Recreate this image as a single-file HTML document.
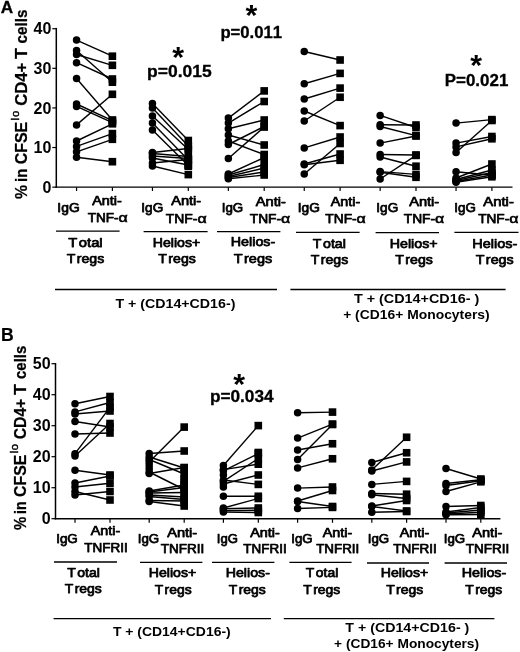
<!DOCTYPE html>
<html><head><meta charset="utf-8"><title>Figure</title>
<style>
html,body{margin:0;padding:0;background:#fff;}
svg{display:block;}
svg text{font-family:"Liberation Sans",sans-serif;fill:#000;font-kerning:none;}
</style></head>
<body>
<svg width="520" height="652" viewBox="0 0 520 652">
<rect x="0" y="0" width="520" height="652" fill="#fff"/>
<line x1="56.3" y1="27.9" x2="56.3" y2="187.85" stroke="#000" stroke-width="1.5"/>
<line x1="55.55" y1="187.15" x2="512.5" y2="187.15" stroke="#000" stroke-width="1.4"/>
<line x1="52.3" y1="187.15" x2="56.3" y2="187.15" stroke="#000" stroke-width="1.2"/>
<text x="51.3" y="192.85" font-size="16" font-weight="bold" text-anchor="end" >0</text>
<line x1="52.3" y1="147.54" x2="56.3" y2="147.54" stroke="#000" stroke-width="1.2"/>
<text x="51.3" y="153.24" font-size="16" font-weight="bold" text-anchor="end" >10</text>
<line x1="52.3" y1="107.93" x2="56.3" y2="107.93" stroke="#000" stroke-width="1.2"/>
<text x="51.3" y="113.63" font-size="16" font-weight="bold" text-anchor="end" >20</text>
<line x1="52.3" y1="68.32" x2="56.3" y2="68.32" stroke="#000" stroke-width="1.2"/>
<text x="51.3" y="74.02" font-size="16" font-weight="bold" text-anchor="end" >30</text>
<line x1="52.3" y1="28.71" x2="56.3" y2="28.71" stroke="#000" stroke-width="1.2"/>
<text x="51.3" y="34.41" font-size="16" font-weight="bold" text-anchor="end" >40</text>
<line x1="76.55" y1="187.15" x2="76.55" y2="191" stroke="#000" stroke-width="1.2"/>
<line x1="152.45" y1="187.15" x2="152.45" y2="191" stroke="#000" stroke-width="1.2"/>
<line x1="228.35" y1="187.15" x2="228.35" y2="191" stroke="#000" stroke-width="1.2"/>
<line x1="304.25" y1="187.15" x2="304.25" y2="191" stroke="#000" stroke-width="1.2"/>
<line x1="380.15" y1="187.15" x2="380.15" y2="191" stroke="#000" stroke-width="1.2"/>
<line x1="456.05" y1="187.15" x2="456.05" y2="191" stroke="#000" stroke-width="1.2"/>
<line x1="112.4" y1="187.15" x2="112.4" y2="191" stroke="#000" stroke-width="1.2"/>
<line x1="188.3" y1="187.15" x2="188.3" y2="191" stroke="#000" stroke-width="1.2"/>
<line x1="264.2" y1="187.15" x2="264.2" y2="191" stroke="#000" stroke-width="1.2"/>
<line x1="340.1" y1="187.15" x2="340.1" y2="191" stroke="#000" stroke-width="1.2"/>
<line x1="416.0" y1="187.15" x2="416.0" y2="191" stroke="#000" stroke-width="1.2"/>
<line x1="491.9" y1="187.15" x2="491.9" y2="191" stroke="#000" stroke-width="1.2"/>
<line x1="76.55" y1="40.1" x2="112.4" y2="56.2" stroke="#000" stroke-width="1.4"/>
<line x1="76.55" y1="50.5" x2="112.4" y2="82.2" stroke="#000" stroke-width="1.4"/>
<line x1="76.55" y1="54.5" x2="112.4" y2="65.3" stroke="#000" stroke-width="1.4"/>
<line x1="76.55" y1="62.7" x2="112.4" y2="79.0" stroke="#000" stroke-width="1.4"/>
<line x1="76.55" y1="78.5" x2="112.4" y2="120" stroke="#000" stroke-width="1.4"/>
<line x1="76.55" y1="104" x2="112.4" y2="120.6" stroke="#000" stroke-width="1.4"/>
<line x1="76.55" y1="106.4" x2="112.4" y2="122.7" stroke="#000" stroke-width="1.4"/>
<line x1="76.55" y1="124.9" x2="112.4" y2="94.3" stroke="#000" stroke-width="1.4"/>
<line x1="76.55" y1="141" x2="112.4" y2="123.8" stroke="#000" stroke-width="1.4"/>
<line x1="76.55" y1="146.4" x2="112.4" y2="133.6" stroke="#000" stroke-width="1.4"/>
<line x1="76.55" y1="151.8" x2="112.4" y2="139.3" stroke="#000" stroke-width="1.4"/>
<line x1="76.55" y1="157.2" x2="112.4" y2="161.7" stroke="#000" stroke-width="1.4"/>
<circle cx="76.55" cy="40.1" r="3.75"/>
<rect x="108.60" y="52.40" width="7.6" height="7.6"/>
<circle cx="76.55" cy="50.5" r="3.75"/>
<rect x="108.60" y="78.40" width="7.6" height="7.6"/>
<circle cx="76.55" cy="54.5" r="3.75"/>
<rect x="108.60" y="61.50" width="7.6" height="7.6"/>
<circle cx="76.55" cy="62.7" r="3.75"/>
<rect x="108.60" y="75.20" width="7.6" height="7.6"/>
<circle cx="76.55" cy="78.5" r="3.75"/>
<rect x="108.60" y="116.20" width="7.6" height="7.6"/>
<circle cx="76.55" cy="104" r="3.75"/>
<rect x="108.60" y="116.80" width="7.6" height="7.6"/>
<circle cx="76.55" cy="106.4" r="3.75"/>
<rect x="108.60" y="118.90" width="7.6" height="7.6"/>
<circle cx="76.55" cy="124.9" r="3.75"/>
<rect x="108.60" y="90.50" width="7.6" height="7.6"/>
<circle cx="76.55" cy="141" r="3.75"/>
<rect x="108.60" y="120.00" width="7.6" height="7.6"/>
<circle cx="76.55" cy="146.4" r="3.75"/>
<rect x="108.60" y="129.80" width="7.6" height="7.6"/>
<circle cx="76.55" cy="151.8" r="3.75"/>
<rect x="108.60" y="135.50" width="7.6" height="7.6"/>
<circle cx="76.55" cy="157.2" r="3.75"/>
<rect x="108.60" y="157.90" width="7.6" height="7.6"/>
<line x1="152.45" y1="103.5" x2="188.3" y2="140.5" stroke="#000" stroke-width="1.4"/>
<line x1="152.45" y1="108" x2="188.3" y2="146" stroke="#000" stroke-width="1.4"/>
<line x1="152.45" y1="116" x2="188.3" y2="149.5" stroke="#000" stroke-width="1.4"/>
<line x1="152.45" y1="123" x2="188.3" y2="160" stroke="#000" stroke-width="1.4"/>
<line x1="152.45" y1="130" x2="188.3" y2="165.5" stroke="#000" stroke-width="1.4"/>
<line x1="152.45" y1="152.5" x2="188.3" y2="148.5" stroke="#000" stroke-width="1.4"/>
<line x1="152.45" y1="153.5" x2="188.3" y2="156.5" stroke="#000" stroke-width="1.4"/>
<line x1="152.45" y1="156" x2="188.3" y2="158.5" stroke="#000" stroke-width="1.4"/>
<line x1="152.45" y1="158" x2="188.3" y2="165" stroke="#000" stroke-width="1.4"/>
<line x1="152.45" y1="163" x2="188.3" y2="159.5" stroke="#000" stroke-width="1.4"/>
<line x1="152.45" y1="166" x2="188.3" y2="174.6" stroke="#000" stroke-width="1.4"/>
<circle cx="152.45" cy="103.5" r="3.75"/>
<rect x="184.50" y="136.70" width="7.6" height="7.6"/>
<circle cx="152.45" cy="108" r="3.75"/>
<rect x="184.50" y="142.20" width="7.6" height="7.6"/>
<circle cx="152.45" cy="116" r="3.75"/>
<rect x="184.50" y="145.70" width="7.6" height="7.6"/>
<circle cx="152.45" cy="123" r="3.75"/>
<rect x="184.50" y="156.20" width="7.6" height="7.6"/>
<circle cx="152.45" cy="130" r="3.75"/>
<rect x="184.50" y="161.70" width="7.6" height="7.6"/>
<circle cx="152.45" cy="152.5" r="3.75"/>
<rect x="184.50" y="144.70" width="7.6" height="7.6"/>
<circle cx="152.45" cy="153.5" r="3.75"/>
<rect x="184.50" y="152.70" width="7.6" height="7.6"/>
<circle cx="152.45" cy="156" r="3.75"/>
<rect x="184.50" y="154.70" width="7.6" height="7.6"/>
<circle cx="152.45" cy="158" r="3.75"/>
<rect x="184.50" y="161.20" width="7.6" height="7.6"/>
<circle cx="152.45" cy="163" r="3.75"/>
<rect x="184.50" y="155.70" width="7.6" height="7.6"/>
<circle cx="152.45" cy="166" r="3.75"/>
<rect x="184.50" y="170.80" width="7.6" height="7.6"/>
<rect x="184.50" y="162.40" width="7.6" height="7.6"/>
<line x1="228.35" y1="118.1" x2="264.2" y2="90.9" stroke="#000" stroke-width="1.4"/>
<line x1="228.35" y1="123.1" x2="264.2" y2="101.5" stroke="#000" stroke-width="1.4"/>
<line x1="228.35" y1="128.7" x2="264.2" y2="120" stroke="#000" stroke-width="1.4"/>
<line x1="228.35" y1="135" x2="264.2" y2="145" stroke="#000" stroke-width="1.4"/>
<line x1="228.35" y1="144.5" x2="264.2" y2="126.5" stroke="#000" stroke-width="1.4"/>
<line x1="228.35" y1="141" x2="264.2" y2="154.5" stroke="#000" stroke-width="1.4"/>
<line x1="228.35" y1="158.5" x2="264.2" y2="127" stroke="#000" stroke-width="1.4"/>
<line x1="228.35" y1="174" x2="264.2" y2="157.5" stroke="#000" stroke-width="1.4"/>
<line x1="228.35" y1="175" x2="264.2" y2="164.5" stroke="#000" stroke-width="1.4"/>
<line x1="228.35" y1="176.5" x2="264.2" y2="168" stroke="#000" stroke-width="1.4"/>
<line x1="228.35" y1="177.5" x2="264.2" y2="172" stroke="#000" stroke-width="1.4"/>
<line x1="228.35" y1="178.8" x2="264.2" y2="175" stroke="#000" stroke-width="1.4"/>
<circle cx="228.35" cy="118.1" r="3.75"/>
<rect x="260.40" y="87.10" width="7.6" height="7.6"/>
<circle cx="228.35" cy="123.1" r="3.75"/>
<rect x="260.40" y="97.70" width="7.6" height="7.6"/>
<circle cx="228.35" cy="128.7" r="3.75"/>
<rect x="260.40" y="116.20" width="7.6" height="7.6"/>
<circle cx="228.35" cy="135" r="3.75"/>
<rect x="260.40" y="141.20" width="7.6" height="7.6"/>
<circle cx="228.35" cy="144.5" r="3.75"/>
<rect x="260.40" y="122.70" width="7.6" height="7.6"/>
<circle cx="228.35" cy="141" r="3.75"/>
<rect x="260.40" y="150.70" width="7.6" height="7.6"/>
<circle cx="228.35" cy="158.5" r="3.75"/>
<rect x="260.40" y="123.20" width="7.6" height="7.6"/>
<circle cx="228.35" cy="174" r="3.75"/>
<rect x="260.40" y="153.70" width="7.6" height="7.6"/>
<circle cx="228.35" cy="175" r="3.75"/>
<rect x="260.40" y="160.70" width="7.6" height="7.6"/>
<circle cx="228.35" cy="176.5" r="3.75"/>
<rect x="260.40" y="164.20" width="7.6" height="7.6"/>
<circle cx="228.35" cy="177.5" r="3.75"/>
<rect x="260.40" y="168.20" width="7.6" height="7.6"/>
<circle cx="228.35" cy="178.8" r="3.75"/>
<rect x="260.40" y="171.20" width="7.6" height="7.6"/>
<line x1="304.25" y1="51.5" x2="340.1" y2="60" stroke="#000" stroke-width="1.4"/>
<line x1="304.25" y1="83.75" x2="340.1" y2="73.4" stroke="#000" stroke-width="1.4"/>
<line x1="304.25" y1="99" x2="340.1" y2="88.1" stroke="#000" stroke-width="1.4"/>
<line x1="304.25" y1="111" x2="340.1" y2="125.6" stroke="#000" stroke-width="1.4"/>
<line x1="304.25" y1="121" x2="340.1" y2="97.25" stroke="#000" stroke-width="1.4"/>
<line x1="304.25" y1="147.9" x2="340.1" y2="137" stroke="#000" stroke-width="1.4"/>
<line x1="304.25" y1="164" x2="340.1" y2="154" stroke="#000" stroke-width="1.4"/>
<line x1="304.25" y1="164.8" x2="340.1" y2="160.3" stroke="#000" stroke-width="1.4"/>
<line x1="304.25" y1="174" x2="340.1" y2="143.5" stroke="#000" stroke-width="1.4"/>
<circle cx="304.25" cy="51.5" r="3.75"/>
<rect x="336.30" y="56.20" width="7.6" height="7.6"/>
<circle cx="304.25" cy="83.75" r="3.75"/>
<rect x="336.30" y="69.60" width="7.6" height="7.6"/>
<circle cx="304.25" cy="99" r="3.75"/>
<rect x="336.30" y="84.30" width="7.6" height="7.6"/>
<circle cx="304.25" cy="111" r="3.75"/>
<rect x="336.30" y="121.80" width="7.6" height="7.6"/>
<circle cx="304.25" cy="121" r="3.75"/>
<rect x="336.30" y="93.45" width="7.6" height="7.6"/>
<circle cx="304.25" cy="147.9" r="3.75"/>
<rect x="336.30" y="133.20" width="7.6" height="7.6"/>
<circle cx="304.25" cy="164" r="3.75"/>
<rect x="336.30" y="150.20" width="7.6" height="7.6"/>
<circle cx="304.25" cy="164.8" r="3.75"/>
<rect x="336.30" y="156.50" width="7.6" height="7.6"/>
<circle cx="304.25" cy="174" r="3.75"/>
<rect x="336.30" y="139.70" width="7.6" height="7.6"/>
<line x1="380.15" y1="115.4" x2="416.0" y2="127.5" stroke="#000" stroke-width="1.4"/>
<line x1="380.15" y1="124.7" x2="416.0" y2="125" stroke="#000" stroke-width="1.4"/>
<line x1="380.15" y1="126.5" x2="416.0" y2="135.6" stroke="#000" stroke-width="1.4"/>
<line x1="380.15" y1="143.1" x2="416.0" y2="136" stroke="#000" stroke-width="1.4"/>
<line x1="380.15" y1="154.5" x2="416.0" y2="155" stroke="#000" stroke-width="1.4"/>
<line x1="380.15" y1="157" x2="416.0" y2="166.2" stroke="#000" stroke-width="1.4"/>
<line x1="380.15" y1="171.6" x2="416.0" y2="174.4" stroke="#000" stroke-width="1.4"/>
<line x1="380.15" y1="172.2" x2="416.0" y2="177.3" stroke="#000" stroke-width="1.4"/>
<line x1="380.15" y1="179" x2="416.0" y2="155.4" stroke="#000" stroke-width="1.4"/>
<circle cx="380.15" cy="115.4" r="3.75"/>
<rect x="412.20" y="123.70" width="7.6" height="7.6"/>
<circle cx="380.15" cy="124.7" r="3.75"/>
<rect x="412.20" y="121.20" width="7.6" height="7.6"/>
<circle cx="380.15" cy="126.5" r="3.75"/>
<rect x="412.20" y="131.80" width="7.6" height="7.6"/>
<circle cx="380.15" cy="143.1" r="3.75"/>
<rect x="412.20" y="132.20" width="7.6" height="7.6"/>
<circle cx="380.15" cy="154.5" r="3.75"/>
<rect x="412.20" y="151.20" width="7.6" height="7.6"/>
<circle cx="380.15" cy="157" r="3.75"/>
<rect x="412.20" y="162.40" width="7.6" height="7.6"/>
<circle cx="380.15" cy="171.6" r="3.75"/>
<rect x="412.20" y="170.60" width="7.6" height="7.6"/>
<circle cx="380.15" cy="172.2" r="3.75"/>
<rect x="412.20" y="173.50" width="7.6" height="7.6"/>
<circle cx="380.15" cy="179" r="3.75"/>
<rect x="412.20" y="151.60" width="7.6" height="7.6"/>
<line x1="456.05" y1="123.1" x2="491.9" y2="119.6" stroke="#000" stroke-width="1.4"/>
<line x1="456.05" y1="143.1" x2="491.9" y2="136.5" stroke="#000" stroke-width="1.4"/>
<line x1="456.05" y1="146.9" x2="491.9" y2="138.8" stroke="#000" stroke-width="1.4"/>
<line x1="456.05" y1="152.5" x2="491.9" y2="120.5" stroke="#000" stroke-width="1.4"/>
<line x1="456.05" y1="171.7" x2="491.9" y2="175.3" stroke="#000" stroke-width="1.4"/>
<line x1="456.05" y1="178" x2="491.9" y2="164" stroke="#000" stroke-width="1.4"/>
<line x1="456.05" y1="179.5" x2="491.9" y2="170" stroke="#000" stroke-width="1.4"/>
<line x1="456.05" y1="180.5" x2="491.9" y2="172.5" stroke="#000" stroke-width="1.4"/>
<line x1="456.05" y1="181.5" x2="491.9" y2="175" stroke="#000" stroke-width="1.4"/>
<line x1="456.05" y1="182.3" x2="491.9" y2="176.8" stroke="#000" stroke-width="1.4"/>
<circle cx="456.05" cy="123.1" r="3.75"/>
<rect x="488.10" y="115.80" width="7.6" height="7.6"/>
<circle cx="456.05" cy="143.1" r="3.75"/>
<rect x="488.10" y="132.70" width="7.6" height="7.6"/>
<circle cx="456.05" cy="146.9" r="3.75"/>
<rect x="488.10" y="135.00" width="7.6" height="7.6"/>
<circle cx="456.05" cy="152.5" r="3.75"/>
<rect x="488.10" y="116.70" width="7.6" height="7.6"/>
<circle cx="456.05" cy="171.7" r="3.75"/>
<rect x="488.10" y="171.50" width="7.6" height="7.6"/>
<circle cx="456.05" cy="178" r="3.75"/>
<rect x="488.10" y="160.20" width="7.6" height="7.6"/>
<circle cx="456.05" cy="179.5" r="3.75"/>
<rect x="488.10" y="166.20" width="7.6" height="7.6"/>
<circle cx="456.05" cy="180.5" r="3.75"/>
<rect x="488.10" y="168.70" width="7.6" height="7.6"/>
<circle cx="456.05" cy="181.5" r="3.75"/>
<rect x="488.10" y="171.20" width="7.6" height="7.6"/>
<circle cx="456.05" cy="182.3" r="3.75"/>
<rect x="488.10" y="173.00" width="7.6" height="7.6"/>
<text x="179.35" y="76.8" font-size="16" font-weight="bold" text-anchor="middle" textLength="64.5" lengthAdjust="spacingAndGlyphs" stroke="#000" stroke-width="0.3">p=0.015</text>
<text x="178.1" y="67" font-size="30.3" font-weight="bold" text-anchor="middle" >*</text>
<text x="251.25" y="37.7" font-size="16" font-weight="bold" text-anchor="middle" textLength="61.7" lengthAdjust="spacingAndGlyphs" stroke="#000" stroke-width="0.3">p=0.011</text>
<text x="251.4" y="25" font-size="30.3" font-weight="bold" text-anchor="middle" >*</text>
<text x="476.54999999999995" y="85.7" font-size="16" font-weight="bold" text-anchor="middle" textLength="63.5" lengthAdjust="spacingAndGlyphs" stroke="#000" stroke-width="0.3">P=0.021</text>
<text x="476.25" y="75" font-size="30.3" font-weight="bold" text-anchor="middle" >*</text>
<text transform="translate(26.90,191.95) rotate(-90)" font-size="16" font-weight="bold" text-anchor="middle" textLength="14.0" lengthAdjust="spacingAndGlyphs" stroke="#000" stroke-width="0.25">%</text>
<text transform="translate(26.90,175.35) rotate(-90)" font-size="16" font-weight="bold" text-anchor="middle" textLength="13.2" lengthAdjust="spacingAndGlyphs" stroke="#000" stroke-width="0.25">in</text>
<text transform="translate(26.90,143.00) rotate(-90)" font-size="16" font-weight="bold" text-anchor="middle" textLength="42.5" lengthAdjust="spacingAndGlyphs" stroke="#000" stroke-width="0.25">CFSE</text>
<text transform="translate(19.20,115.55) rotate(-90)" font-size="11.3" font-weight="normal" text-anchor="middle" textLength="9.8" lengthAdjust="spacing" stroke="#000" stroke-width="0.45">lo</text>
<text transform="translate(26.90,84.25) rotate(-90)" font-size="16" font-weight="bold" text-anchor="middle" textLength="43.2" lengthAdjust="spacingAndGlyphs" stroke="#000" stroke-width="0.25">CD4+</text>
<text transform="translate(26.90,53.50) rotate(-90)" font-size="16" font-weight="bold" text-anchor="middle" textLength="10.9" lengthAdjust="spacingAndGlyphs" stroke="#000" stroke-width="0.25">T</text>
<text transform="translate(26.90,26.50) rotate(-90)" font-size="16" font-weight="bold" text-anchor="middle" textLength="33.9" lengthAdjust="spacingAndGlyphs" stroke="#000" stroke-width="0.25">cells</text>
<text x="0.7" y="13.4" font-size="16.3" textLength="12.4" lengthAdjust="spacingAndGlyphs" font-weight="bold" stroke="#000" stroke-width="0.3">A</text>
<text x="68.50" y="212" font-size="13.1" font-weight="normal" text-anchor="middle" textLength="22.3" lengthAdjust="spacingAndGlyphs" stroke="#000" stroke-width="0.75" stroke-linejoin="round">IgG</text>
<text x="107.00" y="204.6" font-size="13.1" font-weight="normal" text-anchor="middle" textLength="29.7" lengthAdjust="spacingAndGlyphs" stroke="#000" stroke-width="0.75" stroke-linejoin="round">Anti-</text>
<text x="103.20" y="222.3" font-size="13.1" font-weight="normal" text-anchor="middle" textLength="30.9" lengthAdjust="spacingAndGlyphs" stroke="#000" stroke-width="0.75" stroke-linejoin="round">TNF-</text>
<text x="127.8" y="222.3" font-size="13.1" text-anchor="end" textLength="9.2" lengthAdjust="spacingAndGlyphs" stroke="#000" stroke-width="0.6">α</text>
<line x1="56" y1="231.2" x2="119.6" y2="231.2" stroke="#000" stroke-width="1.3"/>
<text x="85.40" y="246.5" font-size="13.1" font-weight="normal" text-anchor="middle" textLength="34.5" lengthAdjust="spacingAndGlyphs" stroke="#000" stroke-width="0.75" stroke-linejoin="round">T<tspan dx="1.5">otal</tspan></text>
<text x="85.50" y="263.2" font-size="13.1" font-weight="normal" text-anchor="middle" textLength="37.5" lengthAdjust="spacingAndGlyphs" stroke="#000" stroke-width="0.75" stroke-linejoin="round">T<tspan dx="1.3">regs</tspan></text>
<text x="152.30" y="211.6" font-size="13.1" font-weight="normal" text-anchor="middle" textLength="21.9" lengthAdjust="spacingAndGlyphs" stroke="#000" stroke-width="0.75" stroke-linejoin="round">IgG</text>
<text x="186.20" y="205" font-size="13.1" font-weight="normal" text-anchor="middle" textLength="30.1" lengthAdjust="spacingAndGlyphs" stroke="#000" stroke-width="0.75" stroke-linejoin="round">Anti-</text>
<text x="181.60" y="223" font-size="13.1" font-weight="normal" text-anchor="middle" textLength="31.7" lengthAdjust="spacingAndGlyphs" stroke="#000" stroke-width="0.75" stroke-linejoin="round">TNF-</text>
<text x="206.6" y="223" font-size="13.1" text-anchor="end" textLength="9.2" lengthAdjust="spacingAndGlyphs" stroke="#000" stroke-width="0.6">α</text>
<line x1="143.6" y1="231.6" x2="207.6" y2="231.6" stroke="#000" stroke-width="1.3"/>
<text x="176.50" y="246.6" font-size="13.1" font-weight="normal" text-anchor="middle" textLength="47.5" lengthAdjust="spacingAndGlyphs" stroke="#000" stroke-width="0.75" stroke-linejoin="round">Helios+</text>
<text x="177.10" y="263.4" font-size="13.1" font-weight="normal" text-anchor="middle" textLength="37.5" lengthAdjust="spacingAndGlyphs" stroke="#000" stroke-width="0.75" stroke-linejoin="round">T<tspan dx="1.3">regs</tspan></text>
<text x="232.50" y="212" font-size="13.1" font-weight="normal" text-anchor="middle" textLength="21.5" lengthAdjust="spacingAndGlyphs" stroke="#000" stroke-width="0.75" stroke-linejoin="round">IgG</text>
<text x="270.80" y="205.6" font-size="13.1" font-weight="normal" text-anchor="middle" textLength="30.1" lengthAdjust="spacingAndGlyphs" stroke="#000" stroke-width="0.75" stroke-linejoin="round">Anti-</text>
<text x="265.40" y="223" font-size="13.1" font-weight="normal" text-anchor="middle" textLength="31.3" lengthAdjust="spacingAndGlyphs" stroke="#000" stroke-width="0.75" stroke-linejoin="round">TNF-</text>
<text x="290.2" y="223" font-size="13.1" text-anchor="end" textLength="9.2" lengthAdjust="spacingAndGlyphs" stroke="#000" stroke-width="0.6">α</text>
<line x1="217" y1="231.6" x2="280.4" y2="231.6" stroke="#000" stroke-width="1.3"/>
<text x="253.00" y="246.3" font-size="13.1" font-weight="normal" text-anchor="middle" textLength="44.5" lengthAdjust="spacingAndGlyphs" stroke="#000" stroke-width="0.75" stroke-linejoin="round">Helios-</text>
<text x="253.00" y="263.2" font-size="13.1" font-weight="normal" text-anchor="middle" textLength="38.5" lengthAdjust="spacingAndGlyphs" stroke="#000" stroke-width="0.75" stroke-linejoin="round">T<tspan dx="1.3">regs</tspan></text>
<text x="308.80" y="212" font-size="13.1" font-weight="normal" text-anchor="middle" textLength="22.1" lengthAdjust="spacingAndGlyphs" stroke="#000" stroke-width="0.75" stroke-linejoin="round">IgG</text>
<text x="345.50" y="205.8" font-size="13.1" font-weight="normal" text-anchor="middle" textLength="29.5" lengthAdjust="spacingAndGlyphs" stroke="#000" stroke-width="0.75" stroke-linejoin="round">Anti-</text>
<text x="341.00" y="223.3" font-size="13.1" font-weight="normal" text-anchor="middle" textLength="31.3" lengthAdjust="spacingAndGlyphs" stroke="#000" stroke-width="0.75" stroke-linejoin="round">TNF-</text>
<text x="365.8" y="223.3" font-size="13.1" text-anchor="end" textLength="9.2" lengthAdjust="spacingAndGlyphs" stroke="#000" stroke-width="0.6">α</text>
<line x1="296" y1="232.4" x2="359.6" y2="232.4" stroke="#000" stroke-width="1.3"/>
<text x="329.30" y="247.8" font-size="13.1" font-weight="normal" text-anchor="middle" textLength="33.1" lengthAdjust="spacingAndGlyphs" stroke="#000" stroke-width="0.75" stroke-linejoin="round">T<tspan dx="1.5">otal</tspan></text>
<text x="329.50" y="264.2" font-size="13.1" font-weight="normal" text-anchor="middle" textLength="37.5" lengthAdjust="spacingAndGlyphs" stroke="#000" stroke-width="0.75" stroke-linejoin="round">T<tspan dx="1.3">regs</tspan></text>
<text x="387.30" y="211.6" font-size="13.1" font-weight="normal" text-anchor="middle" textLength="21.9" lengthAdjust="spacingAndGlyphs" stroke="#000" stroke-width="0.75" stroke-linejoin="round">IgG</text>
<text x="424.20" y="205.8" font-size="13.1" font-weight="normal" text-anchor="middle" textLength="30.1" lengthAdjust="spacingAndGlyphs" stroke="#000" stroke-width="0.75" stroke-linejoin="round">Anti-</text>
<text x="419.40" y="223.3" font-size="13.1" font-weight="normal" text-anchor="middle" textLength="31.3" lengthAdjust="spacingAndGlyphs" stroke="#000" stroke-width="0.75" stroke-linejoin="round">TNF-</text>
<text x="444.2" y="223.3" font-size="13.1" text-anchor="end" textLength="9.2" lengthAdjust="spacingAndGlyphs" stroke="#000" stroke-width="0.6">α</text>
<line x1="375.6" y1="232.6" x2="439" y2="232.6" stroke="#000" stroke-width="1.3"/>
<text x="413.70" y="247.5" font-size="13.1" font-weight="normal" text-anchor="middle" textLength="47.9" lengthAdjust="spacingAndGlyphs" stroke="#000" stroke-width="0.75" stroke-linejoin="round">Helios+</text>
<text x="414.10" y="264.3" font-size="13.1" font-weight="normal" text-anchor="middle" textLength="37.5" lengthAdjust="spacingAndGlyphs" stroke="#000" stroke-width="0.75" stroke-linejoin="round">T<tspan dx="1.3">regs</tspan></text>
<text x="465.10" y="211.6" font-size="13.1" font-weight="normal" text-anchor="middle" textLength="21.5" lengthAdjust="spacingAndGlyphs" stroke="#000" stroke-width="0.75" stroke-linejoin="round">IgG</text>
<text x="498.60" y="205.5" font-size="13.1" font-weight="normal" text-anchor="middle" textLength="30.5" lengthAdjust="spacingAndGlyphs" stroke="#000" stroke-width="0.75" stroke-linejoin="round">Anti-</text>
<text x="493.70" y="223" font-size="13.1" font-weight="normal" text-anchor="middle" textLength="31.1" lengthAdjust="spacingAndGlyphs" stroke="#000" stroke-width="0.75" stroke-linejoin="round">TNF-</text>
<text x="518.4" y="223" font-size="13.1" text-anchor="end" textLength="9.2" lengthAdjust="spacingAndGlyphs" stroke="#000" stroke-width="0.6">α</text>
<line x1="454.4" y1="232.3" x2="518.5" y2="232.3" stroke="#000" stroke-width="1.3"/>
<text x="494.80" y="247.5" font-size="13.1" font-weight="normal" text-anchor="middle" textLength="44.9" lengthAdjust="spacingAndGlyphs" stroke="#000" stroke-width="0.75" stroke-linejoin="round">Helios-</text>
<text x="494.70" y="264.3" font-size="13.1" font-weight="normal" text-anchor="middle" textLength="37.9" lengthAdjust="spacingAndGlyphs" stroke="#000" stroke-width="0.75" stroke-linejoin="round">T<tspan dx="1.3">regs</tspan></text>
<line x1="55" y1="289.5" x2="277" y2="289.5" stroke="#000" stroke-width="1.3"/>
<line x1="290.4" y1="289.5" x2="505.6" y2="289.5" stroke="#000" stroke-width="1.3"/>
<text x="175.4" y="307.5" font-size="13.3" font-weight="bold" text-anchor="middle" textLength="120" lengthAdjust="spacingAndGlyphs">T + (CD14+CD16-)</text>
<text x="416.6" y="302.7" font-size="13.3" font-weight="bold" text-anchor="middle" textLength="125.4" lengthAdjust="spacingAndGlyphs">T + (CD14+CD16- )</text>
<text x="416.4" y="319" font-size="13.3" font-weight="bold" text-anchor="middle" textLength="146.5" lengthAdjust="spacingAndGlyphs">+ (CD16+ Monocyters)</text>
<line x1="55.5" y1="363.0" x2="55.5" y2="519.4000000000001" stroke="#000" stroke-width="1.5"/>
<line x1="54.75" y1="518.7" x2="500.4" y2="518.7" stroke="#000" stroke-width="1.4"/>
<line x1="51.5" y1="518.70" x2="55.5" y2="518.70" stroke="#000" stroke-width="1.2"/>
<text x="50.6" y="524.2" font-size="16" font-weight="bold" text-anchor="end" >0</text>
<line x1="51.5" y1="487.70" x2="55.5" y2="487.70" stroke="#000" stroke-width="1.2"/>
<text x="50.6" y="493.2" font-size="16" font-weight="bold" text-anchor="end" >10</text>
<line x1="51.5" y1="456.70" x2="55.5" y2="456.70" stroke="#000" stroke-width="1.2"/>
<text x="50.6" y="462.2" font-size="16" font-weight="bold" text-anchor="end" >20</text>
<line x1="51.5" y1="425.70" x2="55.5" y2="425.70" stroke="#000" stroke-width="1.2"/>
<text x="50.6" y="431.2" font-size="16" font-weight="bold" text-anchor="end" >30</text>
<line x1="51.5" y1="394.70" x2="55.5" y2="394.70" stroke="#000" stroke-width="1.2"/>
<text x="50.6" y="400.2" font-size="16" font-weight="bold" text-anchor="end" >40</text>
<line x1="51.5" y1="363.70" x2="55.5" y2="363.70" stroke="#000" stroke-width="1.2"/>
<text x="50.6" y="369.2" font-size="16" font-weight="bold" text-anchor="end" >50</text>
<line x1="75.0" y1="518.7" x2="75.0" y2="522.8" stroke="#000" stroke-width="1.2"/>
<line x1="149.2" y1="518.7" x2="149.2" y2="522.8" stroke="#000" stroke-width="1.2"/>
<line x1="223.4" y1="518.7" x2="223.4" y2="522.8" stroke="#000" stroke-width="1.2"/>
<line x1="297.6" y1="518.7" x2="297.6" y2="522.8" stroke="#000" stroke-width="1.2"/>
<line x1="371.8" y1="518.7" x2="371.8" y2="522.8" stroke="#000" stroke-width="1.2"/>
<line x1="446.0" y1="518.7" x2="446.0" y2="522.8" stroke="#000" stroke-width="1.2"/>
<line x1="110.0" y1="518.7" x2="110.0" y2="522.8" stroke="#000" stroke-width="1.2"/>
<line x1="184.2" y1="518.7" x2="184.2" y2="522.8" stroke="#000" stroke-width="1.2"/>
<line x1="258.3" y1="518.7" x2="258.3" y2="522.8" stroke="#000" stroke-width="1.2"/>
<line x1="332.5" y1="518.7" x2="332.5" y2="522.8" stroke="#000" stroke-width="1.2"/>
<line x1="406.6" y1="518.7" x2="406.6" y2="522.8" stroke="#000" stroke-width="1.2"/>
<line x1="480.8" y1="518.7" x2="480.8" y2="522.8" stroke="#000" stroke-width="1.2"/>
<line x1="75.0" y1="403.75" x2="110.0" y2="396.5" stroke="#000" stroke-width="1.4"/>
<line x1="75.0" y1="411.9" x2="110.0" y2="402.5" stroke="#000" stroke-width="1.4"/>
<line x1="75.0" y1="414" x2="110.0" y2="411" stroke="#000" stroke-width="1.4"/>
<line x1="75.0" y1="421.5" x2="110.0" y2="427" stroke="#000" stroke-width="1.4"/>
<line x1="75.0" y1="434" x2="110.0" y2="433" stroke="#000" stroke-width="1.4"/>
<line x1="75.0" y1="453.7" x2="110.0" y2="407.3" stroke="#000" stroke-width="1.4"/>
<line x1="75.0" y1="456" x2="110.0" y2="423.5" stroke="#000" stroke-width="1.4"/>
<line x1="75.0" y1="470.25" x2="110.0" y2="475" stroke="#000" stroke-width="1.4"/>
<line x1="75.0" y1="483" x2="110.0" y2="476" stroke="#000" stroke-width="1.4"/>
<line x1="75.0" y1="487" x2="110.0" y2="483.25" stroke="#000" stroke-width="1.4"/>
<line x1="75.0" y1="491.5" x2="110.0" y2="500" stroke="#000" stroke-width="1.4"/>
<line x1="75.0" y1="495" x2="110.0" y2="491.5" stroke="#000" stroke-width="1.4"/>
<circle cx="75.0" cy="403.75" r="3.75"/>
<rect x="106.20" y="392.70" width="7.6" height="7.6"/>
<circle cx="75.0" cy="411.9" r="3.75"/>
<rect x="106.20" y="398.70" width="7.6" height="7.6"/>
<circle cx="75.0" cy="414" r="3.75"/>
<rect x="106.20" y="407.20" width="7.6" height="7.6"/>
<circle cx="75.0" cy="421.5" r="3.75"/>
<rect x="106.20" y="423.20" width="7.6" height="7.6"/>
<circle cx="75.0" cy="434" r="3.75"/>
<rect x="106.20" y="429.20" width="7.6" height="7.6"/>
<circle cx="75.0" cy="453.7" r="3.75"/>
<rect x="106.20" y="403.50" width="7.6" height="7.6"/>
<circle cx="75.0" cy="456" r="3.75"/>
<rect x="106.20" y="419.70" width="7.6" height="7.6"/>
<circle cx="75.0" cy="470.25" r="3.75"/>
<rect x="106.20" y="471.20" width="7.6" height="7.6"/>
<circle cx="75.0" cy="483" r="3.75"/>
<rect x="106.20" y="472.20" width="7.6" height="7.6"/>
<circle cx="75.0" cy="487" r="3.75"/>
<rect x="106.20" y="479.45" width="7.6" height="7.6"/>
<circle cx="75.0" cy="491.5" r="3.75"/>
<rect x="106.20" y="496.20" width="7.6" height="7.6"/>
<circle cx="75.0" cy="495" r="3.75"/>
<rect x="106.20" y="487.70" width="7.6" height="7.6"/>
<line x1="149.2" y1="462" x2="184.2" y2="427.1" stroke="#000" stroke-width="1.4"/>
<line x1="149.2" y1="453.5" x2="184.2" y2="451" stroke="#000" stroke-width="1.4"/>
<line x1="149.2" y1="457" x2="184.2" y2="468" stroke="#000" stroke-width="1.4"/>
<line x1="149.2" y1="459.5" x2="184.2" y2="474" stroke="#000" stroke-width="1.4"/>
<line x1="149.2" y1="473.5" x2="184.2" y2="467.5" stroke="#000" stroke-width="1.4"/>
<line x1="149.2" y1="472" x2="184.2" y2="489.5" stroke="#000" stroke-width="1.4"/>
<line x1="149.2" y1="491" x2="184.2" y2="485" stroke="#000" stroke-width="1.4"/>
<line x1="149.2" y1="492" x2="184.2" y2="487.5" stroke="#000" stroke-width="1.4"/>
<line x1="149.2" y1="493" x2="184.2" y2="492.5" stroke="#000" stroke-width="1.4"/>
<line x1="149.2" y1="495" x2="184.2" y2="497" stroke="#000" stroke-width="1.4"/>
<line x1="149.2" y1="496.5" x2="184.2" y2="499.5" stroke="#000" stroke-width="1.4"/>
<line x1="149.2" y1="500.5" x2="184.2" y2="501" stroke="#000" stroke-width="1.4"/>
<line x1="149.2" y1="501.5" x2="184.2" y2="506" stroke="#000" stroke-width="1.4"/>
<circle cx="149.2" cy="462" r="3.75"/>
<rect x="180.40" y="423.30" width="7.6" height="7.6"/>
<circle cx="149.2" cy="453.5" r="3.75"/>
<rect x="180.40" y="447.20" width="7.6" height="7.6"/>
<circle cx="149.2" cy="457" r="3.75"/>
<rect x="180.40" y="464.20" width="7.6" height="7.6"/>
<circle cx="149.2" cy="459.5" r="3.75"/>
<rect x="180.40" y="470.20" width="7.6" height="7.6"/>
<circle cx="149.2" cy="473.5" r="3.75"/>
<rect x="180.40" y="463.70" width="7.6" height="7.6"/>
<circle cx="149.2" cy="472" r="3.75"/>
<rect x="180.40" y="485.70" width="7.6" height="7.6"/>
<circle cx="149.2" cy="491" r="3.75"/>
<rect x="180.40" y="481.20" width="7.6" height="7.6"/>
<circle cx="149.2" cy="492" r="3.75"/>
<rect x="180.40" y="483.70" width="7.6" height="7.6"/>
<circle cx="149.2" cy="493" r="3.75"/>
<rect x="180.40" y="488.70" width="7.6" height="7.6"/>
<circle cx="149.2" cy="495" r="3.75"/>
<rect x="180.40" y="493.20" width="7.6" height="7.6"/>
<circle cx="149.2" cy="496.5" r="3.75"/>
<rect x="180.40" y="495.70" width="7.6" height="7.6"/>
<circle cx="149.2" cy="500.5" r="3.75"/>
<rect x="180.40" y="497.20" width="7.6" height="7.6"/>
<circle cx="149.2" cy="501.5" r="3.75"/>
<rect x="180.40" y="502.20" width="7.6" height="7.6"/>
<circle cx="149.2" cy="465" r="3.75"/>
<circle cx="149.2" cy="468.5" r="3.75"/>
<rect x="180.40" y="475.20" width="7.6" height="7.6"/>
<rect x="180.40" y="478.20" width="7.6" height="7.6"/>
<line x1="223.4" y1="465.5" x2="258.3" y2="425.6" stroke="#000" stroke-width="1.4"/>
<line x1="223.4" y1="470.8" x2="258.3" y2="453.6" stroke="#000" stroke-width="1.4"/>
<line x1="223.4" y1="469.6" x2="258.3" y2="464.2" stroke="#000" stroke-width="1.4"/>
<line x1="223.4" y1="481.4" x2="258.3" y2="458.5" stroke="#000" stroke-width="1.4"/>
<line x1="223.4" y1="480" x2="258.3" y2="484.4" stroke="#000" stroke-width="1.4"/>
<line x1="223.4" y1="484" x2="258.3" y2="475" stroke="#000" stroke-width="1.4"/>
<line x1="223.4" y1="496.25" x2="258.3" y2="496.25" stroke="#000" stroke-width="1.4"/>
<line x1="223.4" y1="508" x2="258.3" y2="498.5" stroke="#000" stroke-width="1.4"/>
<line x1="223.4" y1="508.75" x2="258.3" y2="508" stroke="#000" stroke-width="1.4"/>
<line x1="223.4" y1="510.6" x2="258.3" y2="510.3" stroke="#000" stroke-width="1.4"/>
<line x1="223.4" y1="512" x2="258.3" y2="512.5" stroke="#000" stroke-width="1.4"/>
<circle cx="223.4" cy="465.5" r="3.75"/>
<rect x="254.50" y="421.80" width="7.6" height="7.6"/>
<circle cx="223.4" cy="470.8" r="3.75"/>
<rect x="254.50" y="449.80" width="7.6" height="7.6"/>
<circle cx="223.4" cy="469.6" r="3.75"/>
<rect x="254.50" y="460.40" width="7.6" height="7.6"/>
<circle cx="223.4" cy="481.4" r="3.75"/>
<rect x="254.50" y="454.70" width="7.6" height="7.6"/>
<circle cx="223.4" cy="480" r="3.75"/>
<rect x="254.50" y="480.60" width="7.6" height="7.6"/>
<circle cx="223.4" cy="484" r="3.75"/>
<rect x="254.50" y="471.20" width="7.6" height="7.6"/>
<circle cx="223.4" cy="496.25" r="3.75"/>
<rect x="254.50" y="492.45" width="7.6" height="7.6"/>
<circle cx="223.4" cy="508" r="3.75"/>
<rect x="254.50" y="494.70" width="7.6" height="7.6"/>
<circle cx="223.4" cy="508.75" r="3.75"/>
<rect x="254.50" y="504.20" width="7.6" height="7.6"/>
<circle cx="223.4" cy="510.6" r="3.75"/>
<rect x="254.50" y="506.50" width="7.6" height="7.6"/>
<circle cx="223.4" cy="512" r="3.75"/>
<rect x="254.50" y="508.70" width="7.6" height="7.6"/>
<circle cx="223.4" cy="475" r="3.75"/>
<circle cx="223.4" cy="487" r="3.75"/>
<rect x="254.50" y="448.70" width="7.6" height="7.6"/>
<line x1="297.6" y1="412.75" x2="332.5" y2="412.1" stroke="#000" stroke-width="1.4"/>
<line x1="297.6" y1="438.1" x2="332.5" y2="424.1" stroke="#000" stroke-width="1.4"/>
<line x1="297.6" y1="450" x2="332.5" y2="443.75" stroke="#000" stroke-width="1.4"/>
<line x1="297.6" y1="459.4" x2="332.5" y2="424.5" stroke="#000" stroke-width="1.4"/>
<line x1="297.6" y1="467.9" x2="332.5" y2="458.75" stroke="#000" stroke-width="1.4"/>
<line x1="297.6" y1="488.1" x2="332.5" y2="487" stroke="#000" stroke-width="1.4"/>
<line x1="297.6" y1="501" x2="332.5" y2="490.5" stroke="#000" stroke-width="1.4"/>
<line x1="297.6" y1="501.5" x2="332.5" y2="506.5" stroke="#000" stroke-width="1.4"/>
<line x1="297.6" y1="508.5" x2="332.5" y2="507.4" stroke="#000" stroke-width="1.4"/>
<circle cx="297.6" cy="412.75" r="3.75"/>
<rect x="328.70" y="408.30" width="7.6" height="7.6"/>
<circle cx="297.6" cy="438.1" r="3.75"/>
<rect x="328.70" y="420.30" width="7.6" height="7.6"/>
<circle cx="297.6" cy="450" r="3.75"/>
<rect x="328.70" y="439.95" width="7.6" height="7.6"/>
<circle cx="297.6" cy="459.4" r="3.75"/>
<rect x="328.70" y="420.70" width="7.6" height="7.6"/>
<circle cx="297.6" cy="467.9" r="3.75"/>
<rect x="328.70" y="454.95" width="7.6" height="7.6"/>
<circle cx="297.6" cy="488.1" r="3.75"/>
<rect x="328.70" y="483.20" width="7.6" height="7.6"/>
<circle cx="297.6" cy="501" r="3.75"/>
<rect x="328.70" y="486.70" width="7.6" height="7.6"/>
<circle cx="297.6" cy="501.5" r="3.75"/>
<rect x="328.70" y="502.70" width="7.6" height="7.6"/>
<circle cx="297.6" cy="508.5" r="3.75"/>
<rect x="328.70" y="503.60" width="7.6" height="7.6"/>
<line x1="371.8" y1="462.5" x2="406.6" y2="452.75" stroke="#000" stroke-width="1.4"/>
<line x1="371.8" y1="470" x2="406.6" y2="437.25" stroke="#000" stroke-width="1.4"/>
<line x1="371.8" y1="471" x2="406.6" y2="461.9" stroke="#000" stroke-width="1.4"/>
<line x1="371.8" y1="484.4" x2="406.6" y2="481.4" stroke="#000" stroke-width="1.4"/>
<line x1="371.8" y1="493.5" x2="406.6" y2="494.2" stroke="#000" stroke-width="1.4"/>
<line x1="371.8" y1="494.8" x2="406.6" y2="498.5" stroke="#000" stroke-width="1.4"/>
<line x1="371.8" y1="506" x2="406.6" y2="500.5" stroke="#000" stroke-width="1.4"/>
<line x1="371.8" y1="506.5" x2="406.6" y2="511" stroke="#000" stroke-width="1.4"/>
<line x1="371.8" y1="512.25" x2="406.6" y2="511.5" stroke="#000" stroke-width="1.4"/>
<circle cx="371.8" cy="462.5" r="3.75"/>
<rect x="402.80" y="448.95" width="7.6" height="7.6"/>
<circle cx="371.8" cy="470" r="3.75"/>
<rect x="402.80" y="433.45" width="7.6" height="7.6"/>
<circle cx="371.8" cy="471" r="3.75"/>
<rect x="402.80" y="458.10" width="7.6" height="7.6"/>
<circle cx="371.8" cy="484.4" r="3.75"/>
<rect x="402.80" y="477.60" width="7.6" height="7.6"/>
<circle cx="371.8" cy="493.5" r="3.75"/>
<rect x="402.80" y="490.40" width="7.6" height="7.6"/>
<circle cx="371.8" cy="494.8" r="3.75"/>
<rect x="402.80" y="494.70" width="7.6" height="7.6"/>
<circle cx="371.8" cy="506" r="3.75"/>
<rect x="402.80" y="496.70" width="7.6" height="7.6"/>
<circle cx="371.8" cy="506.5" r="3.75"/>
<rect x="402.80" y="507.20" width="7.6" height="7.6"/>
<circle cx="371.8" cy="512.25" r="3.75"/>
<rect x="402.80" y="507.70" width="7.6" height="7.6"/>
<line x1="446.0" y1="468.5" x2="480.8" y2="479" stroke="#000" stroke-width="1.4"/>
<line x1="446.0" y1="483.5" x2="480.8" y2="479.8" stroke="#000" stroke-width="1.4"/>
<line x1="446.0" y1="485.5" x2="480.8" y2="480.8" stroke="#000" stroke-width="1.4"/>
<line x1="446.0" y1="491.5" x2="480.8" y2="481.8" stroke="#000" stroke-width="1.4"/>
<line x1="446.0" y1="506.5" x2="480.8" y2="505.5" stroke="#000" stroke-width="1.4"/>
<line x1="446.0" y1="512" x2="480.8" y2="507.5" stroke="#000" stroke-width="1.4"/>
<line x1="446.0" y1="513" x2="480.8" y2="510" stroke="#000" stroke-width="1.4"/>
<line x1="446.0" y1="514" x2="480.8" y2="512.2" stroke="#000" stroke-width="1.4"/>
<line x1="446.0" y1="514.8" x2="480.8" y2="514.5" stroke="#000" stroke-width="1.4"/>
<circle cx="446.0" cy="468.5" r="3.75"/>
<rect x="477.00" y="475.20" width="7.6" height="7.6"/>
<circle cx="446.0" cy="483.5" r="3.75"/>
<rect x="477.00" y="476.00" width="7.6" height="7.6"/>
<circle cx="446.0" cy="485.5" r="3.75"/>
<rect x="477.00" y="477.00" width="7.6" height="7.6"/>
<circle cx="446.0" cy="491.5" r="3.75"/>
<rect x="477.00" y="478.00" width="7.6" height="7.6"/>
<circle cx="446.0" cy="506.5" r="3.75"/>
<rect x="477.00" y="501.70" width="7.6" height="7.6"/>
<circle cx="446.0" cy="512" r="3.75"/>
<rect x="477.00" y="503.70" width="7.6" height="7.6"/>
<circle cx="446.0" cy="513" r="3.75"/>
<rect x="477.00" y="506.20" width="7.6" height="7.6"/>
<circle cx="446.0" cy="514" r="3.75"/>
<rect x="477.00" y="508.40" width="7.6" height="7.6"/>
<circle cx="446.0" cy="514.8" r="3.75"/>
<rect x="477.00" y="510.70" width="7.6" height="7.6"/>
<text x="241.75" y="401.8" font-size="16" font-weight="bold" text-anchor="middle" textLength="63.7" lengthAdjust="spacingAndGlyphs" stroke="#000" stroke-width="0.3">p=0.034</text>
<text x="239.25" y="394" font-size="30.3" font-weight="bold" text-anchor="middle" >*</text>
<text transform="translate(26.40,523.45) rotate(-90)" font-size="15.7" font-weight="bold" text-anchor="middle" textLength="13.2" lengthAdjust="spacingAndGlyphs" stroke="#000" stroke-width="0.25">%</text>
<text transform="translate(26.40,507.70) rotate(-90)" font-size="15.7" font-weight="bold" text-anchor="middle" textLength="12.5" lengthAdjust="spacingAndGlyphs" stroke="#000" stroke-width="0.25">in</text>
<text transform="translate(26.40,475.85) rotate(-90)" font-size="15.7" font-weight="bold" text-anchor="middle" textLength="42.2" lengthAdjust="spacingAndGlyphs" stroke="#000" stroke-width="0.25">CFSE</text>
<text transform="translate(18.40,448.70) rotate(-90)" font-size="11" font-weight="normal" text-anchor="middle" textLength="9.3" lengthAdjust="spacing" stroke="#000" stroke-width="0.45">lo</text>
<text transform="translate(26.40,419.00) rotate(-90)" font-size="15.7" font-weight="bold" text-anchor="middle" textLength="40.5" lengthAdjust="spacingAndGlyphs" stroke="#000" stroke-width="0.25">CD4+</text>
<text transform="translate(26.40,389.60) rotate(-90)" font-size="15.7" font-weight="bold" text-anchor="middle" textLength="10.9" lengthAdjust="spacingAndGlyphs" stroke="#000" stroke-width="0.25">T</text>
<text transform="translate(26.40,362.35) rotate(-90)" font-size="15.7" font-weight="bold" text-anchor="middle" textLength="33.2" lengthAdjust="spacingAndGlyphs" stroke="#000" stroke-width="0.25">cells</text>
<text x="0.9" y="341.2" font-size="17.9" font-weight="bold" textLength="12.7" lengthAdjust="spacingAndGlyphs" stroke="#000" stroke-width="0.2">B</text>
<text x="67.00" y="542.6" font-size="13.1" font-weight="normal" text-anchor="middle" textLength="21.7" lengthAdjust="spacingAndGlyphs" stroke="#000" stroke-width="0.75" stroke-linejoin="round">IgG</text>
<text x="105.50" y="535.2" font-size="13.1" font-weight="normal" text-anchor="middle" textLength="29.5" lengthAdjust="spacingAndGlyphs" stroke="#000" stroke-width="0.75" stroke-linejoin="round">Anti-</text>
<text x="105.90" y="552.2" font-size="13.1" font-weight="normal" text-anchor="middle" textLength="43.5" lengthAdjust="spacingAndGlyphs" stroke="#000" stroke-width="0.75" stroke-linejoin="round">TNFRII</text>
<line x1="54" y1="562" x2="117" y2="562" stroke="#000" stroke-width="1.3"/>
<text x="83.50" y="576.5" font-size="13.1" font-weight="normal" text-anchor="middle" textLength="32.7" lengthAdjust="spacingAndGlyphs" stroke="#000" stroke-width="0.75" stroke-linejoin="round">T<tspan dx="1.5">otal</tspan></text>
<text x="83.30" y="593.2" font-size="13.1" font-weight="normal" text-anchor="middle" textLength="37.1" lengthAdjust="spacingAndGlyphs" stroke="#000" stroke-width="0.75" stroke-linejoin="round">T<tspan dx="1.3">regs</tspan></text>
<text x="148.50" y="542.6" font-size="13.1" font-weight="normal" text-anchor="middle" textLength="21.5" lengthAdjust="spacingAndGlyphs" stroke="#000" stroke-width="0.75" stroke-linejoin="round">IgG</text>
<text x="182.20" y="536.8" font-size="13.1" font-weight="normal" text-anchor="middle" textLength="30.1" lengthAdjust="spacingAndGlyphs" stroke="#000" stroke-width="0.75" stroke-linejoin="round">Anti-</text>
<text x="182.50" y="553" font-size="13.1" font-weight="normal" text-anchor="middle" textLength="43.5" lengthAdjust="spacingAndGlyphs" stroke="#000" stroke-width="0.75" stroke-linejoin="round">TNFRII</text>
<line x1="140" y1="562.4" x2="202.4" y2="562.4" stroke="#000" stroke-width="1.3"/>
<text x="172.50" y="577" font-size="13.1" font-weight="normal" text-anchor="middle" textLength="47.5" lengthAdjust="spacingAndGlyphs" stroke="#000" stroke-width="0.75" stroke-linejoin="round">Helios+</text>
<text x="173.20" y="593.6" font-size="13.1" font-weight="normal" text-anchor="middle" textLength="36.9" lengthAdjust="spacingAndGlyphs" stroke="#000" stroke-width="0.75" stroke-linejoin="round">T<tspan dx="1.3">regs</tspan></text>
<text x="227.30" y="542.6" font-size="13.1" font-weight="normal" text-anchor="middle" textLength="21.1" lengthAdjust="spacingAndGlyphs" stroke="#000" stroke-width="0.75" stroke-linejoin="round">IgG</text>
<text x="265.00" y="536.6" font-size="13.1" font-weight="normal" text-anchor="middle" textLength="29.7" lengthAdjust="spacingAndGlyphs" stroke="#000" stroke-width="0.75" stroke-linejoin="round">Anti-</text>
<text x="265.00" y="553" font-size="13.1" font-weight="normal" text-anchor="middle" textLength="43.3" lengthAdjust="spacingAndGlyphs" stroke="#000" stroke-width="0.75" stroke-linejoin="round">TNFRII</text>
<line x1="212" y1="562.4" x2="274.4" y2="562.4" stroke="#000" stroke-width="1.3"/>
<text x="247.80" y="577" font-size="13.1" font-weight="normal" text-anchor="middle" textLength="44.1" lengthAdjust="spacingAndGlyphs" stroke="#000" stroke-width="0.75" stroke-linejoin="round">Helios-</text>
<text x="247.30" y="593.6" font-size="13.1" font-weight="normal" text-anchor="middle" textLength="37.1" lengthAdjust="spacingAndGlyphs" stroke="#000" stroke-width="0.75" stroke-linejoin="round">T<tspan dx="1.3">regs</tspan></text>
<text x="302.00" y="542.6" font-size="13.1" font-weight="normal" text-anchor="middle" textLength="21.3" lengthAdjust="spacingAndGlyphs" stroke="#000" stroke-width="0.75" stroke-linejoin="round">IgG</text>
<text x="337.50" y="537" font-size="13.1" font-weight="normal" text-anchor="middle" textLength="29.5" lengthAdjust="spacingAndGlyphs" stroke="#000" stroke-width="0.75" stroke-linejoin="round">Anti-</text>
<text x="337.70" y="553" font-size="13.1" font-weight="normal" text-anchor="middle" textLength="43.1" lengthAdjust="spacingAndGlyphs" stroke="#000" stroke-width="0.75" stroke-linejoin="round">TNFRII</text>
<line x1="289.4" y1="562.4" x2="351.6" y2="562.4" stroke="#000" stroke-width="1.3"/>
<text x="322.00" y="577" font-size="13.1" font-weight="normal" text-anchor="middle" textLength="32.5" lengthAdjust="spacingAndGlyphs" stroke="#000" stroke-width="0.75" stroke-linejoin="round">T<tspan dx="1.5">otal</tspan></text>
<text x="321.80" y="593.6" font-size="13.1" font-weight="normal" text-anchor="middle" textLength="36.9" lengthAdjust="spacingAndGlyphs" stroke="#000" stroke-width="0.75" stroke-linejoin="round">T<tspan dx="1.3">regs</tspan></text>
<text x="378.50" y="542.6" font-size="13.1" font-weight="normal" text-anchor="middle" textLength="21.5" lengthAdjust="spacingAndGlyphs" stroke="#000" stroke-width="0.75" stroke-linejoin="round">IgG</text>
<text x="414.50" y="536.6" font-size="13.1" font-weight="normal" text-anchor="middle" textLength="29.5" lengthAdjust="spacingAndGlyphs" stroke="#000" stroke-width="0.75" stroke-linejoin="round">Anti-</text>
<text x="415.10" y="553" font-size="13.1" font-weight="normal" text-anchor="middle" textLength="43.5" lengthAdjust="spacingAndGlyphs" stroke="#000" stroke-width="0.75" stroke-linejoin="round">TNFRII</text>
<line x1="367" y1="563" x2="429" y2="563" stroke="#000" stroke-width="1.3"/>
<text x="404.50" y="577.4" font-size="13.1" font-weight="normal" text-anchor="middle" textLength="47.5" lengthAdjust="spacingAndGlyphs" stroke="#000" stroke-width="0.75" stroke-linejoin="round">Helios+</text>
<text x="404.70" y="594" font-size="13.1" font-weight="normal" text-anchor="middle" textLength="37.1" lengthAdjust="spacingAndGlyphs" stroke="#000" stroke-width="0.75" stroke-linejoin="round">T<tspan dx="1.3">regs</tspan></text>
<text x="454.50" y="542.6" font-size="13.1" font-weight="normal" text-anchor="middle" textLength="21.5" lengthAdjust="spacingAndGlyphs" stroke="#000" stroke-width="0.75" stroke-linejoin="round">IgG</text>
<text x="487.30" y="536.6" font-size="13.1" font-weight="normal" text-anchor="middle" textLength="29.9" lengthAdjust="spacingAndGlyphs" stroke="#000" stroke-width="0.75" stroke-linejoin="round">Anti-</text>
<text x="487.50" y="553" font-size="13.1" font-weight="normal" text-anchor="middle" textLength="43.5" lengthAdjust="spacingAndGlyphs" stroke="#000" stroke-width="0.75" stroke-linejoin="round">TNFRII</text>
<line x1="444.6" y1="563" x2="507" y2="563" stroke="#000" stroke-width="1.3"/>
<text x="484.00" y="577.4" font-size="13.1" font-weight="normal" text-anchor="middle" textLength="44.5" lengthAdjust="spacingAndGlyphs" stroke="#000" stroke-width="0.75" stroke-linejoin="round">Helios-</text>
<text x="483.80" y="594" font-size="13.1" font-weight="normal" text-anchor="middle" textLength="36.9" lengthAdjust="spacingAndGlyphs" stroke="#000" stroke-width="0.75" stroke-linejoin="round">T<tspan dx="1.3">regs</tspan></text>
<line x1="53.6" y1="618.6" x2="271" y2="618.6" stroke="#000" stroke-width="1.3"/>
<line x1="283.8" y1="618.6" x2="494.4" y2="618.6" stroke="#000" stroke-width="1.3"/>
<text x="171.8" y="636.1" font-size="13.3" font-weight="bold" text-anchor="middle" textLength="117.8" lengthAdjust="spacingAndGlyphs">T + (CD14+CD16-)</text>
<text x="407.3" y="631.5" font-size="13.3" font-weight="bold" text-anchor="middle" textLength="124" lengthAdjust="spacingAndGlyphs">T + (CD14+CD16- )</text>
<text x="406.6" y="648" font-size="13.3" font-weight="bold" text-anchor="middle" textLength="145" lengthAdjust="spacingAndGlyphs">+ (CD16+ Monocyters)</text>
</svg>
</body></html>
